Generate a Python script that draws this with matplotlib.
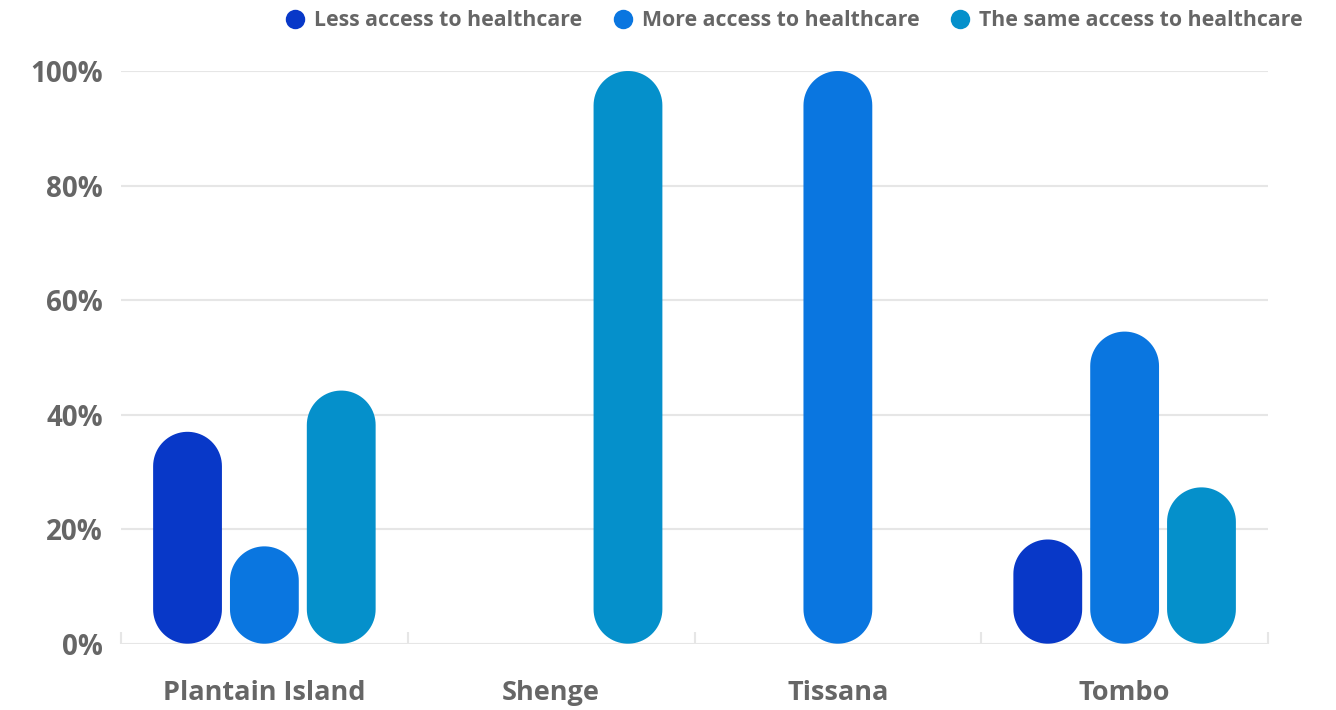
import matplotlib
matplotlib.use("Agg")
import numpy as np
import matplotlib.pyplot as plt
from matplotlib.patches import Polygon
from matplotlib.lines import Line2D

plt.rcParams['font.family'] = ['Open Sans', 'DejaVu Sans']

categories = ["Plantain Island", "Shenge", "Tissana", "Tombo"]
series_names = ["Less access to healthcare", "More access to healthcare",
                "The same access to healthcare"]
less_access = [37.0, 0.0, 0.0, 18.2]
more_access = [17.0, 0.0, 100.0, 54.5]
same_access = [44.2, 100.0, 0.0, 27.3]
y_ticks = [0, 20, 40, 60, 80, 100]
y_tick_labels = ["0%", "20%", "40%", "60%", "80%", "100%"]

colors = ["#0838C8", "#0A76E0", "#0590CB"]
grid_color = "#E6E6E6"
text_color = "#666666"

W, H, DPI = 1336, 710, 100
fig = plt.figure(figsize=(W / DPI, H / DPI), dpi=DPI)
ax_left, ax_right = 121 / W, 1268 / W
ax_bottom, ax_top = (H - 643.7) / H, (H - 71) / H
ax = fig.add_axes([ax_left, ax_bottom, ax_right - ax_left, ax_top - ax_bottom])

n_cat = len(categories)
ax.set_xlim(-0.5, n_cat - 0.5)
ax.set_ylim(0, 100)

# grid lines
for t in y_ticks:
    ax.axhline(t, color=grid_color, lw=1.5, zorder=0)

for s in ax.spines.values():
    s.set_visible(False)

# category boundary ticks (pointing up) and centered labels
ax.set_xticks([i - 0.5 for i in range(n_cat + 1)])
ax.set_xticklabels([])
ax.tick_params(axis='x', which='major', direction='in', length=8.5,
               width=1.5, color=grid_color)
ax.set_xticks(range(n_cat), minor=True)
ax.set_xticklabels(categories, minor=True, fontsize=19.5, fontweight='bold',
                   color=text_color)
ax.tick_params(axis='x', which='minor', length=0, pad=26)

ax.set_yticks(y_ticks)
ax.set_yticklabels(y_tick_labels, fontsize=20, fontweight='bold',
                   color=text_color)
ax.tick_params(axis='y', length=0, pad=13)

# pixel aspect of data units so bar ends are true semicircles
fig.canvas.draw()
x_per_px = (ax.get_xlim()[1] - ax.get_xlim()[0]) / ax.bbox.width
y_per_px = (ax.get_ylim()[1] - ax.get_ylim()[0]) / ax.bbox.height
aspect = y_per_px / x_per_px


def pill(xc, half_w, top, ry):
    """Stadium-shaped outline from 0 to top, with semicircular ends."""
    th = np.linspace(0, np.pi, 40)
    upper = np.column_stack([xc + half_w * np.cos(th), top - ry + ry * np.sin(th)])
    lower = np.column_stack([xc - half_w * np.cos(th), ry - ry * np.sin(th)])
    return np.vstack([upper, lower])


bar_w = 0.24
offset = 0.268
series = [less_access, more_access, same_access]
for k, (vals, col) in enumerate(zip(series, colors)):
    for i, v in enumerate(vals):
        if v <= 0:
            continue
        xc = i + (k - 1) * offset
        ry = (bar_w / 2) * aspect
        ax.add_patch(Polygon(pill(xc, bar_w / 2, v, ry), closed=True,
                             facecolor=col, edgecolor='none', zorder=3,
                             clip_on=False))

handles = [Line2D([], [], marker='o', linestyle='none', markersize=14,
                  markerfacecolor=c, markeredgecolor='none') for c in colors]
fig.legend(handles, series_names, loc='center right',
           bbox_to_anchor=(1313 / W, 1 - 21 / H), ncol=3, frameon=False,
           borderpad=0, handlelength=0.9, handletextpad=0.45,
           columnspacing=1.45, prop={'size': 15.3, 'weight': 'bold'},
           labelcolor=text_color)

fig.savefig("out.png", dpi=DPI, facecolor='white')
